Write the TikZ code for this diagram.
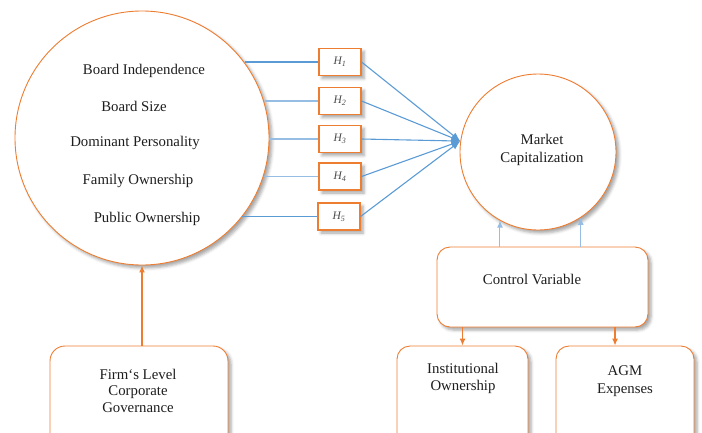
\documentclass[tikz,border=0pt]{standalone}
\usepackage{fontspec}
\setmainfont{Liberation Serif}
\usetikzlibrary{arrows.meta,shadows,shadows.blur,calc}
\definecolor{org}{RGB}{237,125,49}
\definecolor{blu}{RGB}{91,155,213}
\definecolor{lblu}{RGB}{150,190,228}
\definecolor{txt}{RGB}{30,30,30}
\begin{document}
\begin{tikzpicture}[x=1pt,y=-1pt,
  shd/.style={blur shadow={shadow xshift=3pt,shadow yshift=-3pt,shadow blur radius=3pt,shadow opacity=35}},
  ocirc/.style={circle,draw=org,line width=0.9pt,fill=white,inner sep=0pt,shd},
  obox/.style={rectangle,draw=org,line width=0.9pt,fill=white,rounded corners=13pt,inner sep=0pt,shd},
  hbox/.style={rectangle,draw=org,line width=1.1pt,fill=white,minimum width=42pt,minimum height=27pt,inner sep=0pt,shd,font=\fontsize{11.5}{12}\selectfont\itshape,text=txt!80},
  lbl/.style={font=\fontsize{14.8}{17}\selectfont,align=center,inner sep=0pt,text=txt},
  dlink/.style={draw=blu,line width=1.2pt},
  llink/.style={draw=lblu,line width=1.2pt},
  barr/.style={draw=blu,line width=1.1pt,-{Latex[length=9pt,width=7pt]}},
  barrs/.style={draw=lblu,line width=1pt,-{Latex[length=7pt,width=6pt]}},
  oarr/.style={draw=org,line width=1.2pt,-{Latex[length=7pt,width=6pt]}}]
\useasboundingbox (0,0) rectangle (702,432);
\clip (0,0) rectangle (702,432);
% big circle
\node[ocirc,minimum size=254pt] (big) at (142,138) {};
\node[lbl] (t1) at (144,71) {Board Independence};
\node[lbl] (t2) at (134,106) {Board Size};
\node[lbl] (t3) at (135,143) {Dominant Personality};
\node[lbl] (t4) at (138,181) {Family Ownership};
\node[lbl] (t5) at (147,219) {Public Ownership};
% market circle
\node[ocirc,minimum size=156pt] (mkt) at (538,152) {};
\node[lbl,font=\fontsize{14.8}{18}\selectfont] (mktt) at (542,150) {Market\\Capitalization};
% hypothesis boxes
\node[hbox] (h1) at (340,62) {H\textsubscript{1}};
\node[hbox] (h2) at (340,101) {H\textsubscript{2}};
\node[hbox] (h3) at (340,139) {H\textsubscript{3}};
\node[hbox] (h4) at (340,176.5) {H\textsubscript{4}};
\node[hbox] (h5) at (339,216.5) {H\textsubscript{5}};
% links from big circle
\draw[dlink] (big.36.7 |- h1.west) -- (h1.west);
\draw[llink] (big.16.9 |- h2.west) -- (h2.west);
\draw[llink] (big.-0.5 |- h3.west) -- (h3.west);
\draw[llink] (big.-17.6 |- h4.west) -- (h4.west);
\draw[dlink] (big.-38.2 |- h5.west) -- (h5.west);
% arrows to market
\draw[barr] (h1.east) -- (mkt.172);
\draw[barr] (h2.east) -- (mkt.172);
\draw[barr] (h3.east) -- (mkt.172);
\draw[barr] (h4.east) -- (mkt.172);
\draw[barr] (h5.east) -- (mkt.172);
% control variable
\node[obox,minimum width=211pt,minimum height=80pt] (ctrl) at (542.5,287) {};
\node[lbl] (ctrlt) at (532,279) {Control Variable};
\draw[barrs] (mkt.241 |- ctrl.north) -- (mkt.241);
\draw[barrs] (mkt.303 |- ctrl.north) -- (mkt.303);
% bottom boxes
\node[obox,minimum width=131pt,minimum height=124pt] (inst) at (462.5,408) {};
\node[lbl] (instt) at (463,378.5) {Institutional\\Ownership};
\node[obox,minimum width=138pt,minimum height=124pt] (agm) at (625,408) {};
\node[lbl,font=\fontsize{14.8}{18}\selectfont] (agmt) at (625,381) {AGM\\Expenses};
\node[obox,minimum width=178pt,minimum height=124pt,rounded corners=15pt] (firm) at (139,408) {};
\node[lbl,font=\fontsize{14.8}{16.5}\selectfont] (firmt) at (138,390.5) {Firm`s Level\\Corporate\\Governance};
\coordinate (agmin) at ([xshift=-10pt]agm.north);
\draw[oarr] (inst.north |- ctrl.south) -- (inst.north);
\draw[oarr] (agmin |- ctrl.south) -- (agmin);
\draw[oarr] (big.south |- firm.north) -- (big.south);
\end{tikzpicture}
\end{document}
